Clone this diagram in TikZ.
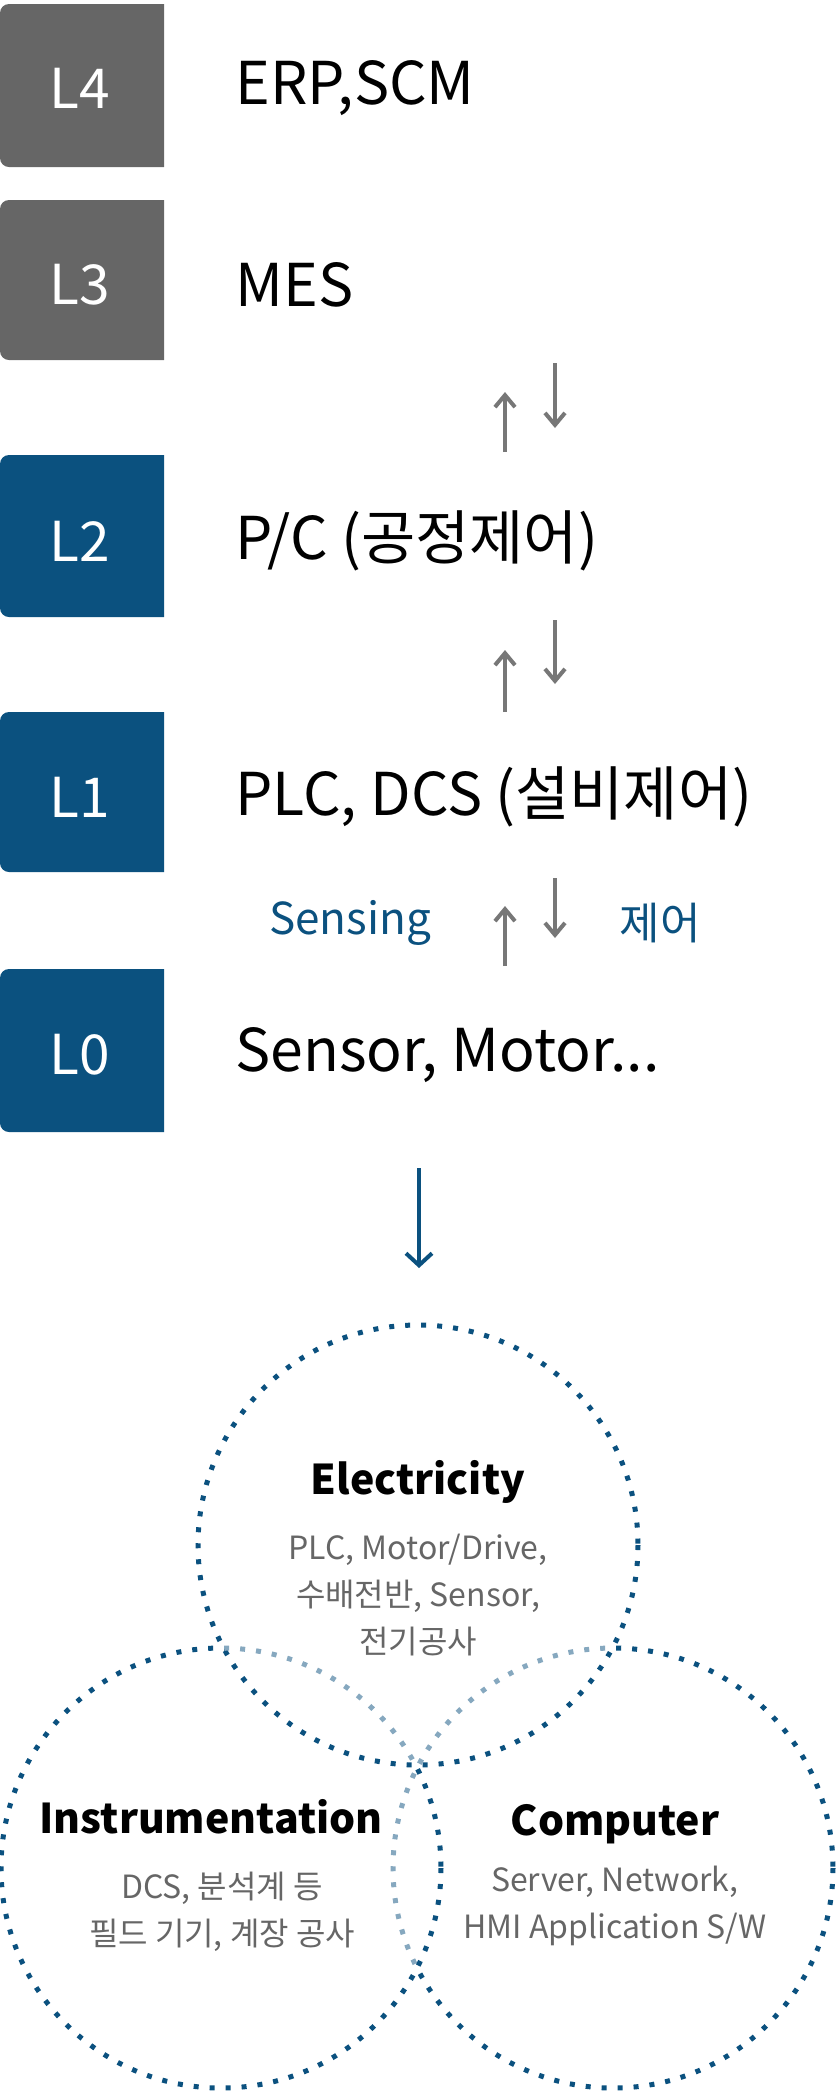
\documentclass[tikz,border=0pt]{standalone}
\usepackage{fontspec}
\setmainfont{Noto Sans CJK KR}
\usetikzlibrary{arrows.meta}
\definecolor{dblue}{HTML}{0B517F}
\definecolor{dgray}{HTML}{666666}
\definecolor{agray}{HTML}{777777}
\definecolor{lblue}{HTML}{86A8BF}
\definecolor{tgray}{HTML}{666666}
\tikzset{
  lvl/.style={text=white,font=\fontsize{55}{55}\selectfont},
  ltxt/.style={anchor=west,font=\fontsize{59}{59}\selectfont},
  garr/.style={agray,line width=4pt,-{Straight Barb[length=12pt,width=20pt,line width=4pt]}},
  side/.style={dblue,font=\fontsize{44}{44}\selectfont},
  dots/.style={line width=5pt,dash pattern=on 5pt off 11pt},
  head/.style={font=\fontsize{41}{41}\selectfont\bfseries},
  sub/.style={text=tgray,font=\fontsize{32}{47}\selectfont,align=center}
}
\begin{document}
\begin{tikzpicture}[x=1pt,y=-1pt]
\useasboundingbox (0,0) rectangle (840,2097);
% level boxes
\foreach \ya/\yb/\c in {4/167/dgray,200/360/dgray,455/617/dblue,712/872/dblue,969/1132/dblue}{
  \fill[\c] (164,\ya) [rounded corners=9pt] -- (0,\ya) -- (0,\yb) [sharp corners] -- (164,\yb) -- cycle;
}
\node[lvl] (l4) at (80,88) {L4};
\node[lvl] (l3) at (80,285) {L3};
\node[lvl] (l2) at (80,541) {L2};
\node[lvl] (l1) at (80,797) {L1};
\node[lvl] (l0) at (80,1055) {L0};
\node[ltxt] (t4) at (232,88) {ERP,SCM};
\node[ltxt] (t3) at (232,285) {MES};
\node[ltxt] (t2) at (232,541) {P/C (공정제어)};
\node[ltxt] (t1) at (232,797) {PLC, DCS (설비제어)};
\node[ltxt] (t0) at (232,1055) {Sensor, Motor...};
% gray arrows
\coordinate (u1a) at (505,452); \coordinate (u1b) at (505,392);
\coordinate (d1a) at (555,363); \coordinate (d1b) at (555,428);
\coordinate (u2a) at (505,712); \coordinate (u2b) at (505,650);
\coordinate (d2a) at (555,620); \coordinate (d2b) at (555,684);
\coordinate (u3a) at (505,966); \coordinate (u3b) at (505,906);
\coordinate (d3a) at (555,878); \coordinate (d3b) at (555,938);
\draw[garr] (u1a) -- (u1b); \draw[garr] (d1a) -- (d1b);
\draw[garr] (u2a) -- (u2b); \draw[garr] (d2a) -- (d2b);
\draw[garr] (u3a) -- (u3b); \draw[garr] (d3a) -- (d3b);
\node[side] (sens) at (350,923) {Sensing};
\node[side] (ctrl) at (660,923) {제어};
% big arrow
\coordinate (ba) at (419,1168); \coordinate (bb) at (419,1268);
\draw[dblue,line width=4pt,-{Straight Barb[length=12pt,width=26pt,line width=4pt]}] (ba) -- (bb);
% circles
\def\TC{(418,1545) circle (220)}
\def\LC{(221,1868) circle (220)}
\def\RC{(613,1868) circle (220)}
\draw[dots,dblue] \TC;
\begin{scope}\clip \TC; \draw[dots,lblue] \LC; \draw[dots,lblue] \RC; \end{scope}
\begin{scope}\clip \LC; \draw[dots,lblue] \RC; \end{scope}
\begin{scope}[even odd rule]\clip (-10,-10) rectangle (850,2110) \TC; \draw[dots,dblue] \LC; \end{scope}
\begin{scope}[even odd rule]\clip (-10,-10) rectangle (850,2110) \TC \LC; \draw[dots,dblue] \RC; \end{scope}
\node[head] (he) at (418,1482) {Electricity};
\node[sub] (se) at (418,1595) {PLC, Motor/Drive,\\수배전반, Sensor,\\전기공사};
\node[head] (hi) at (211,1817) {Instrumentation};
\node[sub] (si) at (222,1912) {DCS, 분석계 등\\필드 기기, 계장 공사};
\node[head] (hc) at (615,1824) {Computer};
\node[sub] (sc) at (615,1906) {Server, Network,\\HMI Application S/W};
\end{tikzpicture}
\end{document}
